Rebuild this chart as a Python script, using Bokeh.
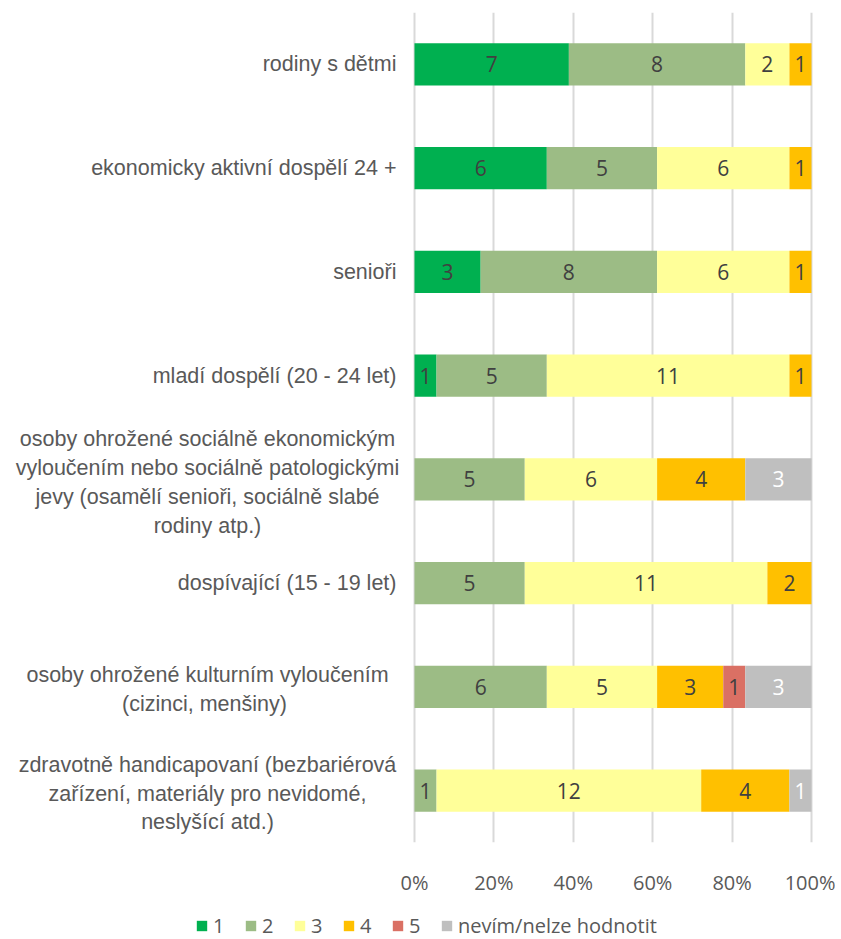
from bokeh.plotting import figure
from bokeh.layouts import column
from bokeh.models import (ColumnDataSource, FactorRange, Range1d, FixedTicker,
                          NumeralTickFormatter, Legend, LegendItem)
from bokeh.core.properties import value
from bokeh.embed import file_html
from bokeh.resources import INLINE

# ---------------- data ----------------
categories = [
    "rodiny s dětmi",
    "ekonomicky aktivní dospělí 24 +",
    "senioři",
    "mladí dospělí (20 - 24 let)",
    "osoby ohrožené sociálně ekonomickým\nvyloučením nebo sociálně patologickými\njevy (osamělí senioři, sociálně slabé\nrodiny atp.)",
    "dospívající (15 - 19 let)",
    "osoby ohrožené kulturním vyloučením\n(cizinci,  menšiny)",
    "zdravotně handicapovaní (bezbariérová\nzařízení, materiály pro nevidomé,\nneslyšící atd.)",
]
series_names = ["1", "2", "3", "4", "5", "nevím/nelze hodnotit"]
s1 = [7, 6, 3, 1, 0, 0, 0, 0]
s2 = [8, 5, 8, 5, 5, 5, 6, 1]
s3 = [2, 6, 6, 11, 6, 11, 5, 12]
s4 = [1, 1, 1, 1, 4, 2, 3, 4]
s5 = [0, 0, 0, 0, 0, 0, 1, 0]
s6 = [0, 0, 0, 0, 3, 0, 3, 1]
x_ticks = [0, 0.2, 0.4, 0.6, 0.8, 1.0]

colors = ["#00B050", "#9CBC85", "#FFFF99", "#FFC000", "#DA7064", "#BFBFBF"]
label_colors = ["#404040", "#404040", "#404040", "#404040", "#404040", "#FFFFFF"]

series = [s1, s2, s3, s4, s5, s6]
keys = ["v%d" % i for i in range(len(series))]
totals = [sum(vals) for vals in zip(*series)]

data = {"cat": categories}
for k, s in zip(keys, series):
    data[k] = [v / t for v, t in zip(s, totals)]
src = ColumnDataSource(data)

# ---------------- main figure ----------------
p = figure(
    width=835, height=902,
    y_range=FactorRange(*reversed(categories), range_padding=0),
    x_range=Range1d(-1.0428, 1.0605),
    output_backend="svg", toolbar_location=None,
    min_border_left=0, min_border_right=0, min_border_top=12, min_border_bottom=60,
)
p.outline_line_color = None
p.background_fill_color = "white"
p.border_fill_color = "white"

renderers = p.hbar_stack(keys, y="cat", height=0.405, color=colors, source=src,
                         line_color=None)

# data labels
lx, ly, lt, lc = [], [], [], []
for ci, cat in enumerate(categories):
    cum = 0.0
    for si, s in enumerate(series):
        frac = s[ci] / totals[ci]
        if s[ci] > 0:
            lx.append(cum + frac / 2)
            ly.append(cat)
            lt.append(str(s[ci]))
            lc.append(label_colors[si])
        cum += frac
lab_src = ColumnDataSource(dict(x=lx, y=ly, t=lt, c=lc))
p.text(x="x", y="y", text="t", text_color="c", source=lab_src,
       text_align="center", text_baseline="middle",
       text_font=value("Open Sans"), text_font_size="21px")

# category labels (drawn left of the bars)
single = [c for c in categories if "\n" not in c]
multi = [c for c in categories if "\n" in c]
p.text(x=[0] * len(single), y=single, text=single, x_offset=-18,
       text_align="right", text_baseline="middle",
       text_font=value("Liberation Sans"), text_font_size="21.5px",
       text_color="#595959")
p.text(x=[0] * len(multi), y=multi, text=multi, x_offset=-207, y_offset=3,
       text_align="center", text_baseline="middle", text_line_height=1.2,
       text_font=value("Liberation Sans"), text_font_size="21.5px",
       text_color="#595959")

# axes / grid
p.yaxis.visible = False
p.ygrid.grid_line_color = None
p.xaxis.ticker = FixedTicker(ticks=x_ticks)
p.xaxis.formatter = NumeralTickFormatter(format="0%")
p.xaxis.axis_line_color = None
p.xaxis.major_tick_line_color = None
p.xaxis.minor_tick_line_color = None
p.xaxis.major_tick_out = 0
p.xaxis.major_label_standoff = 26
p.xaxis.major_label_text_font = "Open Sans"
p.xaxis.major_label_text_font_size = "20px"
p.xaxis.major_label_text_color = "#595959"
p.xgrid.ticker = FixedTicker(ticks=x_ticks)
p.xgrid.grid_line_color = "#D9D9D9"
p.xgrid.grid_line_width = 2

# ---------------- legend strip ----------------
lg = figure(width=835, height=37, x_range=Range1d(0, 1), y_range=Range1d(0, 1),
            output_backend="svg", toolbar_location=None,
            min_border_left=0, min_border_right=0, min_border_top=0, min_border_bottom=0)
lg.axis.visible = False
lg.grid.grid_line_color = None
lg.outline_line_color = None
# swatch renderers (kept outside the visible range; only used for legend glyphs)
swatch_src = ColumnDataSource(dict(y=[-5], l=[0], r=[0]))
swatches = [lg.hbar(y="y", left="l", right="r", height=0.4, color=c, line_color=None,
                    source=swatch_src) for c in colors]
items = [LegendItem(label=n, renderers=[r]) for n, r in zip(series_names, swatches)]
legend = Legend(items=items, orientation="horizontal", location=(195, 0),
                glyph_width=13, glyph_height=13, label_standoff=5, spacing=11,
                label_text_font="Open Sans", label_text_font_size="20px",
                label_text_color="#595959", border_line_color=None,
                background_fill_alpha=0, padding=0, margin=0)
lg.add_layout(legend, "center")

layout = column(p, lg, spacing=0)
open("out.html", "w").write(file_html(layout, INLINE))
